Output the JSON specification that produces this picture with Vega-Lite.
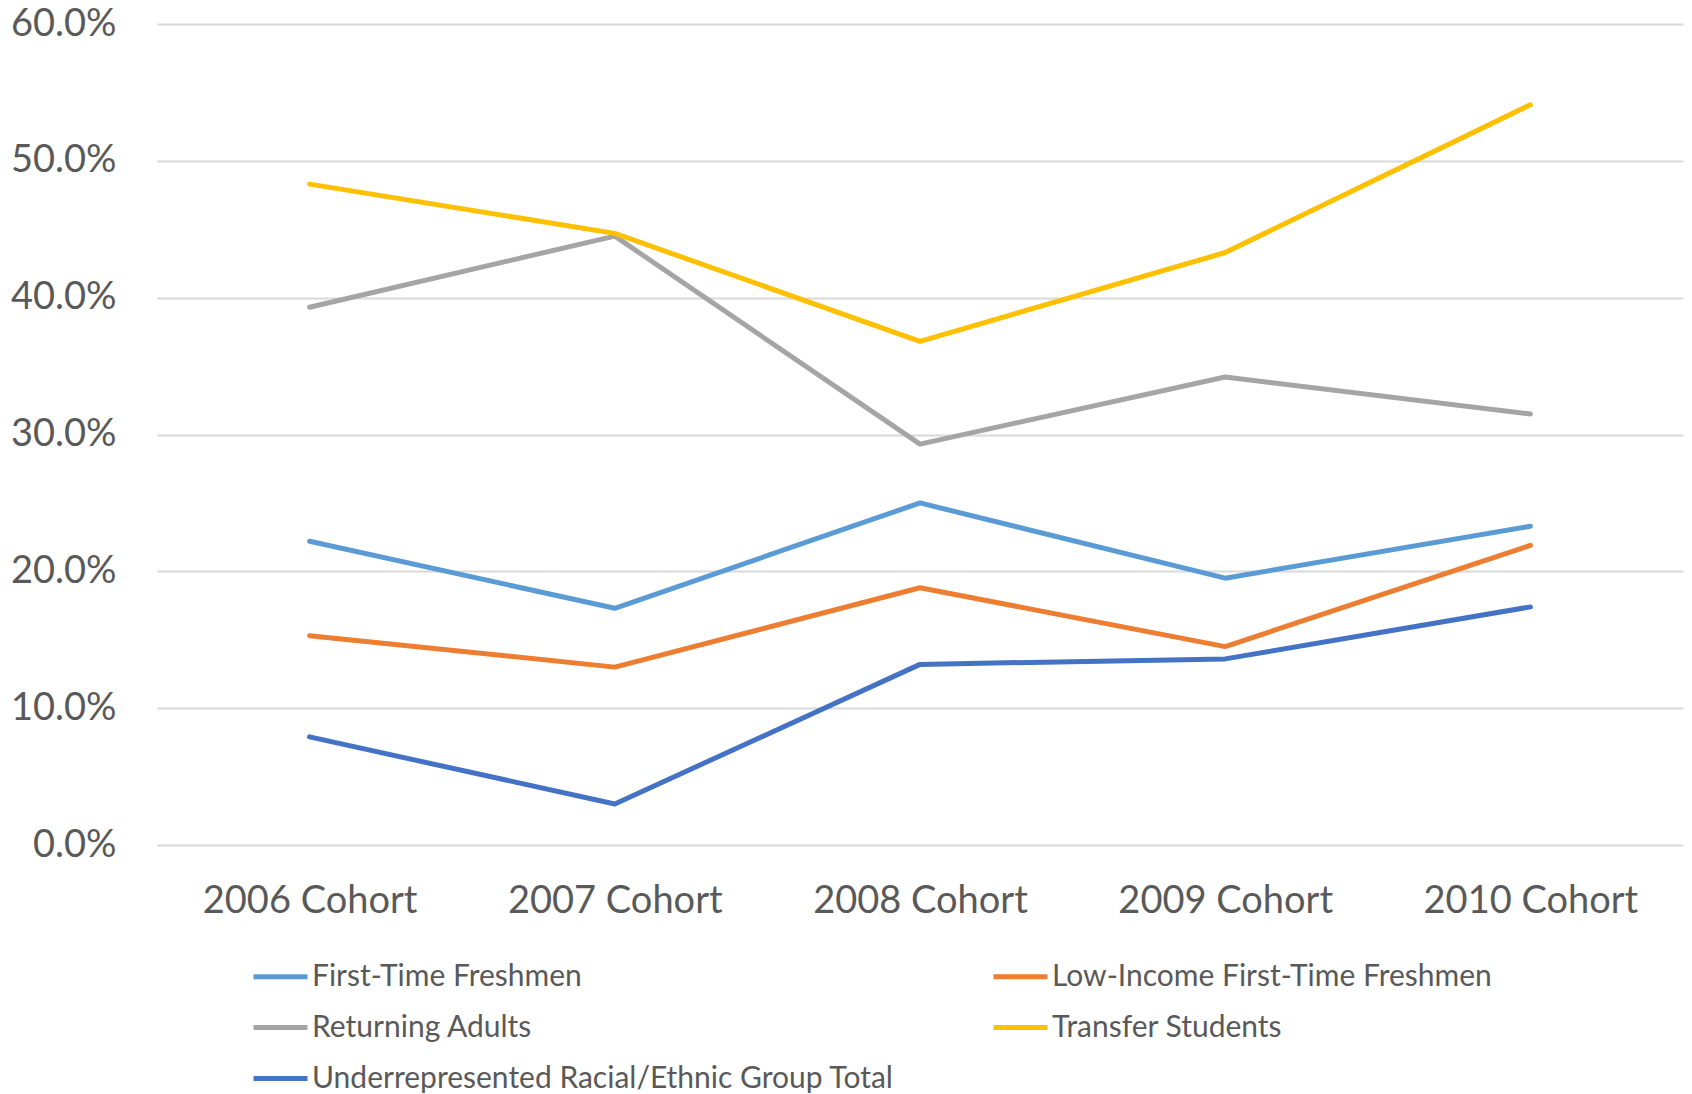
{
  "$schema": "https://vega.github.io/schema/vega-lite/v6.json",
  "autosize": {"type": "none"},
  "width": 1526,
  "height": 821,
  "padding": {"left": 157, "top": 24, "right": 9, "bottom": 249},
  "background": "white",
  "data": {
    "values": [
      {"cohort": "2006 Cohort", "group": "First-Time Freshmen", "rate": 0.222},
      {"cohort": "2007 Cohort", "group": "First-Time Freshmen", "rate": 0.173},
      {"cohort": "2008 Cohort", "group": "First-Time Freshmen", "rate": 0.250},
      {"cohort": "2009 Cohort", "group": "First-Time Freshmen", "rate": 0.195},
      {"cohort": "2010 Cohort", "group": "First-Time Freshmen", "rate": 0.233},
      {"cohort": "2006 Cohort", "group": "Low-Income First-Time Freshmen", "rate": 0.153},
      {"cohort": "2007 Cohort", "group": "Low-Income First-Time Freshmen", "rate": 0.130},
      {"cohort": "2008 Cohort", "group": "Low-Income First-Time Freshmen", "rate": 0.188},
      {"cohort": "2009 Cohort", "group": "Low-Income First-Time Freshmen", "rate": 0.145},
      {"cohort": "2010 Cohort", "group": "Low-Income First-Time Freshmen", "rate": 0.219},
      {"cohort": "2006 Cohort", "group": "Returning Adults", "rate": 0.393},
      {"cohort": "2007 Cohort", "group": "Returning Adults", "rate": 0.445},
      {"cohort": "2008 Cohort", "group": "Returning Adults", "rate": 0.293},
      {"cohort": "2009 Cohort", "group": "Returning Adults", "rate": 0.342},
      {"cohort": "2010 Cohort", "group": "Returning Adults", "rate": 0.315},
      {"cohort": "2006 Cohort", "group": "Transfer Students", "rate": 0.483},
      {"cohort": "2007 Cohort", "group": "Transfer Students", "rate": 0.447},
      {"cohort": "2008 Cohort", "group": "Transfer Students", "rate": 0.368},
      {"cohort": "2009 Cohort", "group": "Transfer Students", "rate": 0.433},
      {"cohort": "2010 Cohort", "group": "Transfer Students", "rate": 0.541},
      {"cohort": "2006 Cohort", "group": "Underrepresented Racial/Ethnic Group Total", "rate": 0.079},
      {"cohort": "2007 Cohort", "group": "Underrepresented Racial/Ethnic Group Total", "rate": 0.030},
      {"cohort": "2008 Cohort", "group": "Underrepresented Racial/Ethnic Group Total", "rate": 0.132},
      {"cohort": "2009 Cohort", "group": "Underrepresented Racial/Ethnic Group Total", "rate": 0.136},
      {"cohort": "2010 Cohort", "group": "Underrepresented Racial/Ethnic Group Total", "rate": 0.174}
    ]
  },
  "mark": {"type": "line", "strokeWidth": 5, "strokeCap": "round", "strokeJoin": "round"},
  "encoding": {
    "x": {
      "field": "cohort",
      "type": "ordinal",
      "scale": {"type": "point", "padding": 0.5},
      "axis": {
        "title": null,
        "labelAngle": 0,
        "labelFont": "Lato",
        "labelFontSize": 38,
        "labelColor": "#595959",
        "labelPadding": 37,
        "labelLimit": 400,
        "domain": false,
        "ticks": false,
        "grid": false
      }
    },
    "y": {
      "field": "rate",
      "type": "quantitative",
      "scale": {"domain": [0, 0.6], "nice": false},
      "axis": {
        "title": null,
        "values": [0, 0.1, 0.2, 0.3, 0.4, 0.5, 0.6],
        "format": ".1%",
        "labelFont": "Lato",
        "labelFontSize": 38,
        "labelColor": "#595959",
        "labelPadding": 41,
        "domain": false,
        "ticks": false,
        "grid": true,
        "gridColor": "#D9D9D9",
        "gridWidth": 2
      }
    },
    "color": {
      "field": "group",
      "type": "nominal",
      "scale": {
        "domain": [
          "First-Time Freshmen",
          "Returning Adults",
          "Underrepresented Racial/Ethnic Group Total",
          "Low-Income First-Time Freshmen",
          "Transfer Students"
        ],
        "range": ["#5B9BD5", "#A5A5A5", "#4472C4", "#ED7D31", "#FFC000"]
      },
      "legend": {
        "title": null,
        "orient": "none",
        "legendX": 94,
        "legendY": 923,
        "columns": 2,
        "columnPadding": 89,
        "rowPadding": 6,
        "padding": 0,
        "symbolType": "stroke",
        "symbolSize": 2916,
        "symbolStrokeWidth": 5,
        "labelFont": "Lato",
        "labelFontSize": 30,
        "labelColor": "#595959",
        "labelOffset": 2,
        "labelLimit": 1000
      }
    }
  },
  "config": {"view": {"stroke": null}}
}
